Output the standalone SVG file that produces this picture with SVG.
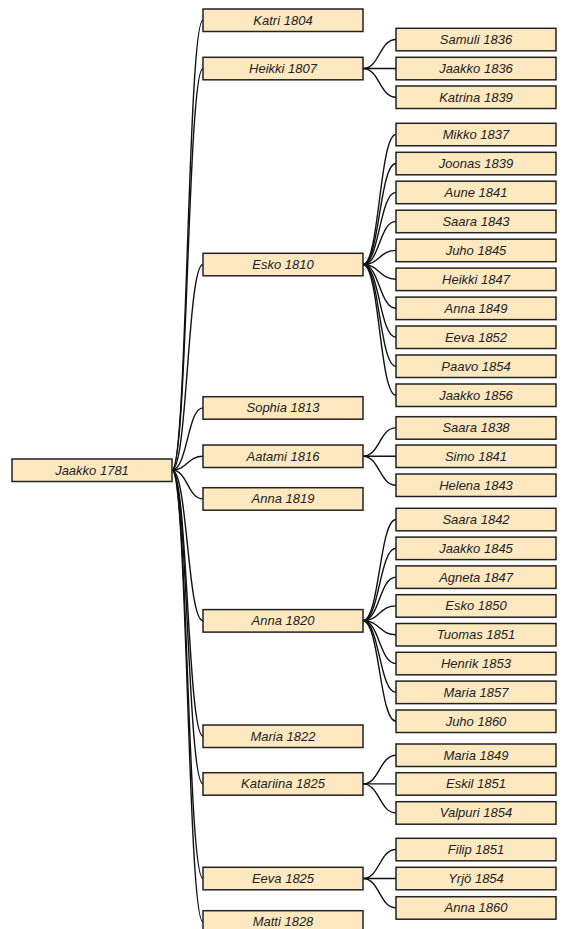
<svg xmlns="http://www.w3.org/2000/svg" width="562" height="929" viewBox="0 0 562 929">
<style>
.node rect{fill:#fde8c0;stroke:#222;stroke-width:1.5}
.node text{font-family:"Liberation Sans",Arial,Helvetica,sans-serif;font-style:italic;font-size:13px;fill:#222;text-anchor:middle}
.links path{fill:none;stroke:#111;stroke-width:1.4}
</style>
<rect width="562" height="929" fill="#fff"/>
<g class="links">
<path d="M172,470 C187.5,470 187.5,20.2 203,20.2"/>
<path d="M172,470 C187.5,470 187.5,68.5 203,68.5"/>
<path d="M172,470 C187.5,470 187.5,264.5 203,264.5"/>
<path d="M172,470 C187.5,470 187.5,407.9 203,407.9"/>
<path d="M172,470 C187.5,470 187.5,456.2 203,456.2"/>
<path d="M172,470 C187.5,470 187.5,498.9 203,498.9"/>
<path d="M172,470 C187.5,470 187.5,620.8 203,620.8"/>
<path d="M172,470 C187.5,470 187.5,736.2 203,736.2"/>
<path d="M172,470 C187.5,470 187.5,783.9 203,783.9"/>
<path d="M172,470 C187.5,470 187.5,878.5 203,878.5"/>
<path d="M172,470 C187.5,470 187.5,921.9 203,921.9"/>
<path d="M363,68.5 C379.5,68.5 379.5,39.5 396,39.5"/>
<path d="M363,68.5 C379.5,68.5 379.5,68.5 396,68.5"/>
<path d="M363,68.5 C379.5,68.5 379.5,97.2 396,97.2"/>
<path d="M363,264.5 C379.5,264.5 379.5,134.5 396,134.5"/>
<path d="M363,264.5 C379.5,264.5 379.5,163.5 396,163.5"/>
<path d="M363,264.5 C379.5,264.5 379.5,192.4 396,192.4"/>
<path d="M363,264.5 C379.5,264.5 379.5,221.4 396,221.4"/>
<path d="M363,264.5 C379.5,264.5 379.5,250.4 396,250.4"/>
<path d="M363,264.5 C379.5,264.5 379.5,279.3 396,279.3"/>
<path d="M363,264.5 C379.5,264.5 379.5,308.3 396,308.3"/>
<path d="M363,264.5 C379.5,264.5 379.5,337.2 396,337.2"/>
<path d="M363,264.5 C379.5,264.5 379.5,366.2 396,366.2"/>
<path d="M363,264.5 C379.5,264.5 379.5,395.2 396,395.2"/>
<path d="M363,456.2 C379.5,456.2 379.5,427.9 396,427.9"/>
<path d="M363,456.2 C379.5,456.2 379.5,456.2 396,456.2"/>
<path d="M363,456.2 C379.5,456.2 379.5,485.2 396,485.2"/>
<path d="M363,620.8 C379.5,620.8 379.5,519.5 396,519.5"/>
<path d="M363,620.8 C379.5,620.8 379.5,548.3 396,548.3"/>
<path d="M363,620.8 C379.5,620.8 379.5,577.1 396,577.1"/>
<path d="M363,620.8 C379.5,620.8 379.5,605.9 396,605.9"/>
<path d="M363,620.8 C379.5,620.8 379.5,634.7 396,634.7"/>
<path d="M363,620.8 C379.5,620.8 379.5,663.5 396,663.5"/>
<path d="M363,620.8 C379.5,620.8 379.5,692.3 396,692.3"/>
<path d="M363,620.8 C379.5,620.8 379.5,721.2 396,721.2"/>
<path d="M363,783.9 C379.5,783.9 379.5,755.2 396,755.2"/>
<path d="M363,783.9 C379.5,783.9 379.5,783.9 396,783.9"/>
<path d="M363,783.9 C379.5,783.9 379.5,812.9 396,812.9"/>
<path d="M363,878.5 C379.5,878.5 379.5,849.5 396,849.5"/>
<path d="M363,878.5 C379.5,878.5 379.5,878.5 396,878.5"/>
<path d="M363,878.5 C379.5,878.5 379.5,907.9 396,907.9"/>
</g>
<g id="n-jaakko1781" class="node"><rect x="12" y="459" width="160" height="22.5"/><text x="92" y="474.7">Jaakko 1781</text></g>
<g id="n-katri1804" class="node"><rect x="203" y="9" width="160" height="22.5"/><text x="283" y="24.7">Katri 1804</text></g>
<g id="n-heikki1807" class="node"><rect x="203" y="57.3" width="160" height="22.5"/><text x="283" y="73">Heikki 1807</text></g>
<g id="n-esko1810" class="node"><rect x="203" y="253.3" width="160" height="22.5"/><text x="283" y="269">Esko 1810</text></g>
<g id="n-sophia1813" class="node"><rect x="203" y="396.7" width="160" height="22.5"/><text x="283" y="412.4">Sophia 1813</text></g>
<g id="n-aatami1816" class="node"><rect x="203" y="445" width="160" height="22.5"/><text x="283" y="460.7">Aatami 1816</text></g>
<g id="n-anna1819" class="node"><rect x="203" y="487.7" width="160" height="22.5"/><text x="283" y="503.4">Anna 1819</text></g>
<g id="n-anna1820" class="node"><rect x="203" y="609.6" width="160" height="22.5"/><text x="283" y="625.3">Anna 1820</text></g>
<g id="n-maria1822" class="node"><rect x="203" y="725" width="160" height="22.5"/><text x="283" y="740.7">Maria 1822</text></g>
<g id="n-katariina1825" class="node"><rect x="203" y="772.7" width="160" height="22.5"/><text x="283" y="788.4">Katariina 1825</text></g>
<g id="n-eeva1825" class="node"><rect x="203" y="867.3" width="160" height="22.5"/><text x="283" y="883">Eeva 1825</text></g>
<g id="n-matti1828" class="node"><rect x="203" y="910.7" width="160" height="22.5"/><text x="283" y="926.4">Matti 1828</text></g>
<g id="n-samuli1836" class="node"><rect x="396" y="28.3" width="160" height="22.5"/><text x="476" y="44">Samuli 1836</text></g>
<g id="n-jaakko1836" class="node"><rect x="396" y="57.3" width="160" height="22.5"/><text x="476" y="73">Jaakko 1836</text></g>
<g id="n-katrina1839" class="node"><rect x="396" y="86" width="160" height="22.5"/><text x="476" y="101.7">Katrina 1839</text></g>
<g id="n-mikko1837" class="node"><rect x="396" y="123.3" width="160" height="22.5"/><text x="476" y="139">Mikko 1837</text></g>
<g id="n-joonas1839" class="node"><rect x="396" y="152.3" width="160" height="22.5"/><text x="476" y="168">Joonas 1839</text></g>
<g id="n-aune1841" class="node"><rect x="396" y="181.2" width="160" height="22.5"/><text x="476" y="196.9">Aune 1841</text></g>
<g id="n-saara1843" class="node"><rect x="396" y="210.2" width="160" height="22.5"/><text x="476" y="225.9">Saara 1843</text></g>
<g id="n-juho1845" class="node"><rect x="396" y="239.2" width="160" height="22.5"/><text x="476" y="254.9">Juho 1845</text></g>
<g id="n-heikki1847" class="node"><rect x="396" y="268.1" width="160" height="22.5"/><text x="476" y="283.8">Heikki 1847</text></g>
<g id="n-anna1849" class="node"><rect x="396" y="297.1" width="160" height="22.5"/><text x="476" y="312.8">Anna 1849</text></g>
<g id="n-eeva1852" class="node"><rect x="396" y="326" width="160" height="22.5"/><text x="476" y="341.7">Eeva 1852</text></g>
<g id="n-paavo1854" class="node"><rect x="396" y="355" width="160" height="22.5"/><text x="476" y="370.7">Paavo 1854</text></g>
<g id="n-jaakko1856" class="node"><rect x="396" y="384" width="160" height="22.5"/><text x="476" y="399.7">Jaakko 1856</text></g>
<g id="n-saara1838" class="node"><rect x="396" y="416.7" width="160" height="22.5"/><text x="476" y="432.4">Saara 1838</text></g>
<g id="n-simo1841" class="node"><rect x="396" y="445" width="160" height="22.5"/><text x="476" y="460.7">Simo 1841</text></g>
<g id="n-helena1843" class="node"><rect x="396" y="474" width="160" height="22.5"/><text x="476" y="489.7">Helena 1843</text></g>
<g id="n-saara1842" class="node"><rect x="396" y="508.3" width="160" height="22.5"/><text x="476" y="524">Saara 1842</text></g>
<g id="n-jaakko1845" class="node"><rect x="396" y="537.1" width="160" height="22.5"/><text x="476" y="552.8">Jaakko 1845</text></g>
<g id="n-agneta1847" class="node"><rect x="396" y="565.9" width="160" height="22.5"/><text x="476" y="581.6">Agneta 1847</text></g>
<g id="n-esko1850" class="node"><rect x="396" y="594.7" width="160" height="22.5"/><text x="476" y="610.4">Esko 1850</text></g>
<g id="n-tuomas1851" class="node"><rect x="396" y="623.5" width="160" height="22.5"/><text x="476" y="639.2">Tuomas 1851</text></g>
<g id="n-henrik1853" class="node"><rect x="396" y="652.3" width="160" height="22.5"/><text x="476" y="668">Henrik 1853</text></g>
<g id="n-maria1857" class="node"><rect x="396" y="681.1" width="160" height="22.5"/><text x="476" y="696.8">Maria 1857</text></g>
<g id="n-juho1860" class="node"><rect x="396" y="710" width="160" height="22.5"/><text x="476" y="725.7">Juho 1860</text></g>
<g id="n-maria1849" class="node"><rect x="396" y="744" width="160" height="22.5"/><text x="476" y="759.7">Maria 1849</text></g>
<g id="n-eskil1851" class="node"><rect x="396" y="772.7" width="160" height="22.5"/><text x="476" y="788.4">Eskil 1851</text></g>
<g id="n-valpuri1854" class="node"><rect x="396" y="801.7" width="160" height="22.5"/><text x="476" y="817.4">Valpuri 1854</text></g>
<g id="n-filip1851" class="node"><rect x="396" y="838.3" width="160" height="22.5"/><text x="476" y="854">Filip 1851</text></g>
<g id="n-yrjo1854" class="node"><rect x="396" y="867.3" width="160" height="22.5"/><text x="476" y="883">Yrjö 1854</text></g>
<g id="n-anna1860" class="node"><rect x="396" y="896.7" width="160" height="22.5"/><text x="476" y="912.4">Anna 1860</text></g>
</svg>
